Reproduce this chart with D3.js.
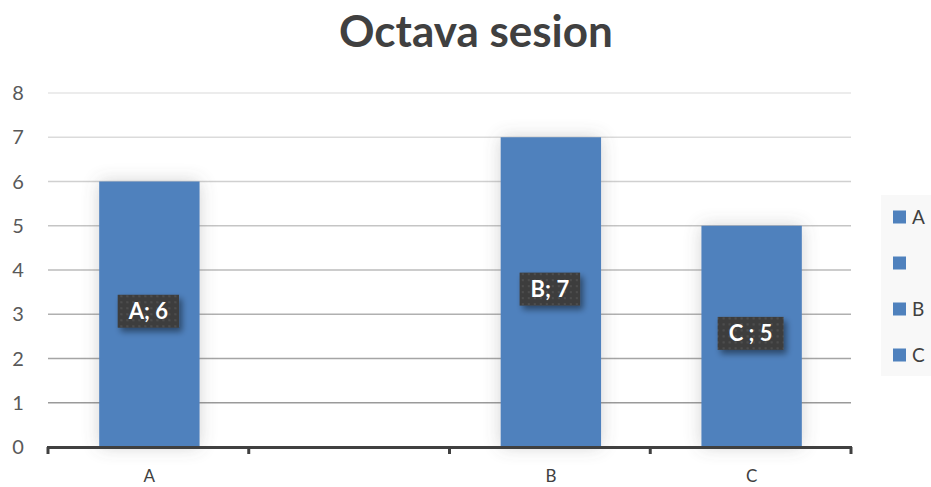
<!DOCTYPE html>
<html><head><meta charset="utf-8">
<script src="https://cdn.jsdelivr.net/npm/d3@7"></script>
<style>body{margin:0;background:#fff}svg{display:block}</style>
</head><body>
<svg id="c" width="931" height="487"></svg>
<script>
const categories = ["A", "", "B", "C"];
const values = [6, null, 7, 5];
const dataLabels = ["A; 6", "", "B; 7", "C ; 5"];
const yTicks = [0, 1, 2, 3, 4, 5, 6, 7, 8];
const title = "Octava sesion";

(function(){
const svg = d3.select("#c");
const pLeft = 48, pRight = 851, pTop = 93, pBottom = 447;
const FONT = "Lato, 'Open Sans', sans-serif";

const defs = svg.append("defs");
const glow = defs.append("filter").attr("id","glow").attr("x","-40%").attr("y","-40%").attr("width","180%").attr("height","180%");
glow.append("feGaussianBlur").attr("in","SourceAlpha").attr("stdDeviation",9).attr("result","b");
glow.append("feComponentTransfer").attr("in","b").attr("result","b2")
  .append("feFuncA").attr("type","linear").attr("slope",0.28);
glow.append("feFlood").attr("flood-color","#606060").attr("result","f");
glow.append("feComposite").attr("in","f").attr("in2","b2").attr("operator","in").attr("result","s");
const m1 = glow.append("feMerge"); m1.append("feMergeNode").attr("in","s"); m1.append("feMergeNode").attr("in","SourceGraphic");

const lsh = defs.append("filter").attr("id","lsh").attr("x","-30%").attr("y","-30%").attr("width","170%").attr("height","180%");
lsh.append("feGaussianBlur").attr("in","SourceAlpha").attr("stdDeviation",3).attr("result","b");
lsh.append("feOffset").attr("in","b").attr("dx",3).attr("dy",4).attr("result","o");
lsh.append("feComponentTransfer").attr("in","o").attr("result","o2").append("feFuncA").attr("type","linear").attr("slope",0.45);
const m2 = lsh.append("feMerge"); m2.append("feMergeNode").attr("in","o2"); m2.append("feMergeNode").attr("in","SourceGraphic");

const pat = defs.append("pattern").attr("id","dots").attr("patternUnits","userSpaceOnUse").attr("width",6).attr("height",6);
pat.append("rect").attr("width",6).attr("height",6).attr("fill","#3e3e3e");
pat.append("rect").attr("x",2).attr("y",2).attr("width",2).attr("height",2).attr("fill","#4e4e4e");

const x = d3.scaleBand().domain(d3.range(categories.length)).range([pLeft, pRight]).paddingInner(0.5).paddingOuter(0.25);
const y = d3.scaleLinear().domain([0, 8]).range([pBottom, pTop]);
const gridColor = d3.scaleLinear().domain([1, 8]).range(["#9a9a9a", "#e6e6e6"]);

svg.append("text").attr("x", 476).attr("y", 47).attr("text-anchor","middle")
  .attr("font-family", FONT).attr("font-weight","bold").attr("font-size", 44).attr("fill","#404040").text(title);

svg.append("g").selectAll("line").data(yTicks.filter(d => d > 0)).join("line")
  .attr("x1", pLeft).attr("x2", pRight).attr("y1", d => y(d)).attr("y2", d => y(d))
  .attr("stroke", d => gridColor(d)).attr("stroke-width", 1.3);

svg.append("g").selectAll("text").data(yTicks).join("text")
  .attr("x", 18).attr("y", d => y(d) + 7).attr("text-anchor","middle")
  .attr("font-family", FONT).attr("font-size", 20).attr("fill","#595959").text(d => d);

const bd = categories.map((c, i) => ({i, v: values[i], lab: dataLabels[i]})).filter(d => d.v != null);
svg.append("g").selectAll("rect").data(bd).join("rect")
  .attr("x", d => x(d.i) + 1).attr("width", x.bandwidth())
  .attr("y", d => y(d.v)).attr("height", d => y(0) - y(d.v))
  .attr("fill", "#4f81bd").attr("filter","url(#glow)");

const step = x.step();
const bounds = d3.range(categories.length + 1).map(k => pLeft + k * step);
svg.append("line").attr("x1", pLeft - 1).attr("x2", pRight + 1).attr("y1", pBottom + 0.5).attr("y2", pBottom + 0.5)
  .attr("stroke", "#404040").attr("stroke-width", 3);
svg.append("g").selectAll("line").data(bounds).join("line")
  .attr("x1", d => d).attr("x2", d => d).attr("y1", pBottom).attr("y2", pBottom + 7)
  .attr("stroke", "#404040").attr("stroke-width", 3);
svg.append("g").selectAll("text").data(categories).join("text")
  .attr("x", (d, i) => x(i) + x.bandwidth() / 2 + 1).attr("y", 482).attr("text-anchor","middle")
  .attr("font-family", FONT).attr("font-size", 17).attr("fill","#404040").text(d => d);

const lg = svg.append("g").selectAll("g").data(bd).join("g")
  .attr("transform", d => `translate(${x(d.i) + x.bandwidth()/2},${y(d.v/2) - 3})`);
lg.each(function(d) {
  const g = d3.select(this);
  const t = g.append("text").attr("text-anchor","middle").attr("y", 8)
    .attr("font-family", FONT).attr("font-weight","bold").attr("font-size", 22).attr("fill","#fff").text(d.lab);
  const w = t.node().getComputedTextLength() + 22;
  g.insert("rect", "text").attr("x", -w/2).attr("y", -16.5).attr("width", w).attr("height", 33)
    .attr("fill","url(#dots)").attr("filter","url(#lsh)");
});

const legY = [217, 263, 309, 355];
svg.append("rect").attr("x", 881).attr("y", 195).attr("width", 50).attr("height", 181).attr("fill", "#f8f8f8");
const leg = svg.append("g").selectAll("g").data(categories).join("g")
  .attr("transform", (d, i) => `translate(893,${legY[i]})`);
leg.append("rect").attr("x", 0).attr("y", -6.5).attr("width", 13).attr("height", 13).attr("fill", "#4f81bd");
leg.append("text").attr("x", 19).attr("y", 7).attr("font-family", FONT).attr("font-size", 19).attr("fill","#404040").text(d => d);
})();
</script>
</body></html>
